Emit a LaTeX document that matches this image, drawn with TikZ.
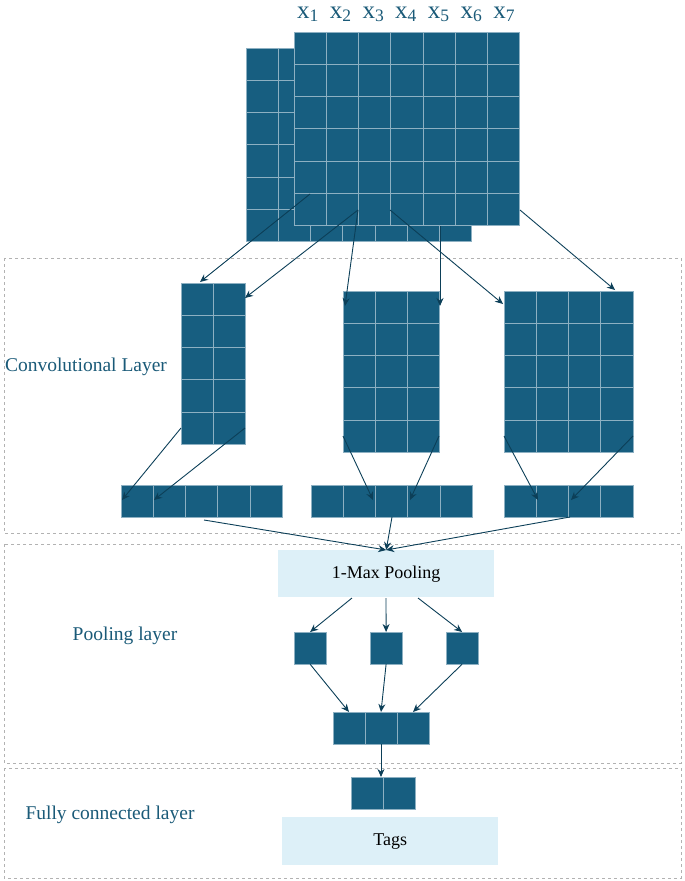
\documentclass[tikz,border=0pt]{standalone}
\usepackage{fontspec}
\setmainfont{Liberation Serif}
\usetikzlibrary{arrows.meta,calc}
\definecolor{cellc}{HTML}{175E80}
\definecolor{linec}{HTML}{8DB0C2}
\definecolor{txtc}{HTML}{1A5A78}
\definecolor{arrc}{HTML}{0C3F58}
\definecolor{boxc}{HTML}{DDF0F8}
\newcommand\cnngrid[6]{% name,x,y,cols,rows,cellsize
  \node[gridbox,minimum width=#4*#6pt,minimum height=#5*#6pt] (#1) at (#2,#3) {};
  \foreach \i in {1,...,#4}{\draw[gridline] ($(#1.north west)+(\i*#6,0)$) -- ($(#1.south west)+(\i*#6,0)$);}
  \foreach \j in {1,...,#5}{\draw[gridline] ($(#1.north west)+(0,\j*#6)$) -- ($(#1.north east)+(0,\j*#6)$);}
}
\begin{document}
\begin{tikzpicture}[x=1pt,y=-1pt,
  gridbox/.style={fill=cellc,draw=linec,line width=0.5pt,anchor=north west,inner sep=0pt,outer sep=0pt},
  gridline/.style={draw=linec,line width=0.5pt},
  arr/.style={draw=arrc,line width=0.9pt,-{Stealth[length=8pt,width=7pt]}},
  layer/.style={draw=gray!60,dashed,line width=0.4pt},
  lab/.style={text=txtc,font=\fontsize{19.5}{22}\selectfont},
  lbox/.style={fill=boxc,draw=none,anchor=north west,inner sep=0pt,font=\fontsize{18}{20}\selectfont}]
\useasboundingbox (0,0) rectangle (685,881);
% layers
\draw[layer] (4,258) rectangle (681,533);
\draw[layer] (4,544) rectangle (681,763);
\draw[layer] (4,768) rectangle (681,878);
\node[lab] (Lc) at (86,367) {Convolutional Layer};
\node[lab] (Lp) at (125,636) {Pooling layer};
\node[lab] (Lf) at (110,815) {Fully connected layer};
% input grids
\cnngrid{back}{246}{48}{7}{6}{32.2}
\cnngrid{front}{294}{32}{7}{6}{32.2}
\foreach \k in {1,...,7}{\node[text=txtc,font=\fontsize{25}{27}\selectfont,anchor=base] (x\k) at ({294+14+(\k-1)*32.7},18) {x\textsubscript{\k}};}
% conv grids
\cnngrid{c1}{181}{283}{2}{5}{32.2}
\cnngrid{c2}{343}{291}{3}{5}{32.2}
\cnngrid{c3}{504}{291}{4}{5}{32.2}
% feature rows
\cnngrid{r1}{121}{485}{5}{1}{32.2}
\cnngrid{r2}{311}{485}{5}{1}{32.2}
\cnngrid{r3}{504}{485}{4}{1}{32.2}
% arrows input->conv
\draw[arr] (310,194) -- (200,282);
\draw[arr] (358,210) -- (245,298);
\draw[arr] (358,210) -- (345,306);
\draw[arr] (390,210) -- (503,304);
\draw[arr] (440,226) -- (440,306);
\draw[arr] (520,210) -- (615,290);
% conv -> rows
\draw[arr] (181,428) -- (122,500);
\draw[arr] (245,428) -- (154,500);
\draw[arr] (343,436) -- (373,500);
\draw[arr] (439,436) -- (410,500);
\draw[arr] (504,436) -- (538,500);
\draw[arr] (633,436) -- (571,500);
% pooling
\node[lbox,minimum width=216pt,minimum height=47pt] (pool) at (278,550) {1-Max Pooling};
\draw[arr] (204,520) -- (pool.north);
\draw[arr] (392,517) -- (pool.north);
\draw[arr] (570,517) -- (pool.north);
\cnngrid{p1}{294}{632}{1}{1}{32.2}
\cnngrid{p2}{370}{632}{1}{1}{32.2}
\cnngrid{p3}{446}{632}{1}{1}{32.2}
\draw[arr] (352,598) -- (p1.north);
\draw[arr] (386,598) -- (p2.north);
\draw[arr] (418,598) -- (p3.north);
\cnngrid{pr}{333}{712}{3}{1}{32.2}
\draw[arr] (p1.south) -- (349,712);
\draw[arr] (p2.south) -- (381,712);
\draw[arr] (p3.south) -- (413,712);
% fully connected
\cnngrid{fc}{351}{777}{2}{1}{32.2}
\draw[arr] (381,744) -- (381,777);
\node[lbox,minimum width=216pt,minimum height=48pt] (tags) at (282,817) {Tags};
\end{tikzpicture}
\end{document}
